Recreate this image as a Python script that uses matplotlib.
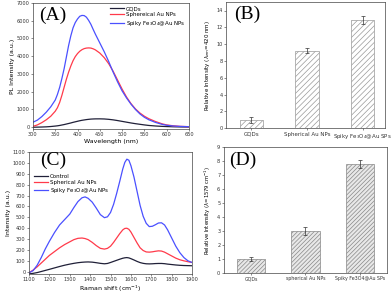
import matplotlib
matplotlib.use("Agg")
import matplotlib.pyplot as plt
import numpy as np

plt.rcParams['font.family'] = ['DejaVu Sans']
plt.rcParams['hatch.linewidth'] = 0.5

# panel A: PL spectra
wl = [300, 310, 320, 330, 340, 350, 355, 360, 365, 370, 375, 380, 385, 390,
      395, 400, 405, 410, 415, 420, 425, 430, 435, 440, 450, 460, 470, 480,
      490, 500, 510, 520, 530, 540, 550, 560, 575, 590, 600, 615, 630, 650]
pl_gqd = [0, 5, 12, 22, 40, 65, 80, 100, 125, 150, 180, 210, 240, 275, 305,
          335, 365, 390, 410, 430, 445, 458, 465, 470, 472, 465, 445, 415,
          375, 330, 285, 240, 200, 165, 130, 100, 70, 48, 38, 25, 17, 10]
pl_sph = [50, 130, 260, 420, 620, 900, 1100, 1400, 1800, 2250, 2700, 3100,
          3450, 3750, 3980, 4150, 4280, 4370, 4430, 4460, 4470, 4460, 4420,
          4360, 4180, 3920, 3580, 3150, 2650, 2150, 1700, 1330, 1030, 800,
          620, 480, 320, 190, 130, 80, 50, 30]
pl_spiky = [280, 400, 600, 850, 1150, 1530, 1850, 2250, 2750, 3300, 3950,
            4600, 5150, 5600, 5900, 6100, 6250, 6300, 6290, 6200, 6020, 5800,
            5520, 5250, 4750, 4250, 3700, 3100, 2550, 2050, 1650, 1300, 1000,
            750, 560, 420, 270, 160, 110, 70, 45, 30]

# panel B: relative PL intensity
b_labels = ['GQDs', 'Spherical Au NPs', 'Spiky Fe$_3$O$_4$@Au SPs']
b_vals = [1.0, 9.2, 12.9]
b_err = [0.35, 0.3, 0.5]

# panel C: Raman spectra
rs = [1100, 1120, 1140, 1160, 1180, 1200, 1225, 1250, 1275, 1300, 1320, 1340,
      1360, 1375, 1390, 1410, 1430, 1450, 1470, 1485, 1500, 1515, 1530, 1545,
      1560, 1570, 1580, 1590, 1600, 1615, 1630, 1645, 1660, 1675, 1690, 1705,
      1720, 1735, 1750, 1765, 1780, 1800, 1820, 1840, 1860, 1880, 1900]
ra_ctrl = [-20, -15, -8, 2, 12, 22, 35, 48, 60, 70, 77, 83, 87, 89, 90, 88,
           83, 77, 73, 76, 85, 95, 105, 115, 124, 128, 130, 127, 120, 108, 95,
           84, 77, 73, 72, 73, 75, 76, 76, 74, 70, 66, 62, 59, 57, 56, 55]
ra_sph = [-10, 15, 45, 80, 115, 150, 185, 220, 250, 275, 295, 307, 310, 305,
          295, 270, 240, 215, 208, 215, 235, 270, 310, 350, 385, 398, 400, 390,
          365, 315, 265, 220, 195, 182, 180, 183, 188, 192, 190, 180, 165, 145,
          125, 110, 100, 92, 85]
ra_spiky = [-10, 10, 60, 130, 210, 280, 360, 430, 480, 530, 590, 645, 680,
            688, 675, 640, 585, 525, 497, 505, 545, 620, 720, 830, 945, 1005,
            1035, 1025, 975, 870, 740, 610, 510, 445, 415, 418, 432, 448, 450,
            430, 385, 310, 235, 175, 130, 100, 85]

# panel D: relative Raman intensity
d_labels = ['GQDs', 'spherical Au NPs', 'Spiky Fe3O4@Au SPs']
d_vals = [1.0, 3.0, 7.8]
d_err = [0.13, 0.3, 0.3]

c_black = '#202038'
c_red = '#ff3a4a'
c_blue = '#4a50ff'
serif = ['Liberation Serif', 'DejaVu Serif']

fig = plt.figure(figsize=(3.92, 3.0), dpi=100)
axA = fig.add_axes([0.084, 0.57, 0.398, 0.42])
axB = fig.add_axes([0.577, 0.573, 0.405, 0.42])
axC = fig.add_axes([0.074, 0.087, 0.416, 0.406])
axD = fig.add_axes([0.571, 0.09, 0.416, 0.42])

for ax in (axA, axB, axC, axD):
    ax.tick_params(labelsize=3.6, length=1.5, width=0.4, pad=1, colors='#333333')
    for s in ax.spines.values():
        s.set_linewidth(0.5)
        s.set_color('#444444')

lw = 0.9
axA.plot(wl, pl_gqd, color=c_black, lw=lw, label='GQDs')
axA.plot(wl, pl_sph, color=c_red, lw=lw, label='Sphereical Au NPs')
axA.plot(wl, pl_spiky, color=c_blue, lw=lw, label='Spiky Fe$_3$O$_4$@Au NPs')
axA.set_xlim(300, 650)
axA.set_ylim(-100, 7000)
axA.set_xticks(range(300, 651, 50))
axA.set_yticks(range(0, 7001, 1000))
axA.set_xlabel('Wavelength (nm)', fontsize=4.5, labelpad=1)
axA.set_ylabel('PL Intensity (a.u.)', fontsize=4.5, labelpad=1)
axA.legend(loc='upper right', fontsize=4, frameon=False, handlelength=2.5,
           borderaxespad=0.2, labelspacing=0.2, handletextpad=0.4)
axA.text(0.04, 0.97, '(A)', transform=axA.transAxes, fontsize=14,
         family=serif, va='top')

xb = np.arange(len(b_vals))
axB.bar(xb, b_vals, width=0.42, color='white', edgecolor='#999999',
        hatch='//////', linewidth=0.5, yerr=b_err, capsize=1.2,
        error_kw=dict(elinewidth=0.5, capthick=0.5, ecolor='#333333'))
axB.set_xlim(-0.45, 2.4)
axB.set_ylim(0, 15)
axB.set_yticks(range(0, 15, 2))
axB.set_xticks(xb)
axB.set_xticklabels(b_labels, fontsize=4)
axB.set_ylabel('Relative Intensity ($\\lambda_{em}$=420 nm)', fontsize=4,
               labelpad=3)
axB.text(0.05, 0.97, '(B)', transform=axB.transAxes, fontsize=14,
         family=serif, va='top')

axC.plot(rs, ra_ctrl, color=c_black, lw=lw, label='Control')
axC.plot(rs, ra_sph, color=c_red, lw=lw, label='Spherical Au NPs')
axC.plot(rs, ra_spiky, color=c_blue, lw=lw, label='Spiky Fe$_3$O$_4$@Au NPs')
axC.set_xlim(1100, 1900)
axC.set_ylim(-20, 1100)
axC.set_xticks(range(1100, 1901, 100))
axC.set_yticks(range(0, 1101, 100))
axC.set_xlabel('Raman shift (cm$^{-1}$)', fontsize=4.5, labelpad=1)
axC.set_ylabel('Intensity (a.u.)', fontsize=4.5, labelpad=1)
axC.legend(loc='upper left', bbox_to_anchor=(0.0, 0.86), fontsize=4,
           frameon=False, handlelength=2.5, labelspacing=0.2,
           handletextpad=0.4)
axC.text(0.07, 1.0, '(C)', transform=axC.transAxes, fontsize=14,
         family=serif, va='top')

xd = np.arange(len(d_vals))
axD.bar(xd, d_vals, width=0.52, color='#e8e8e8', edgecolor='#888888',
        hatch='////////', linewidth=0.5, yerr=d_err, capsize=1.2,
        error_kw=dict(elinewidth=0.5, capthick=0.5, ecolor='#333333'))
axD.set_xlim(-0.5, 2.5)
axD.set_ylim(0, 9)
axD.set_yticks(range(0, 10))
axD.set_xticks(xd)
axD.set_xticklabels(d_labels, fontsize=3.4)
axD.set_ylabel('Relative Intensity ($\\lambda$=1579 cm$^{-1}$)', fontsize=3.8,
               labelpad=3)
axD.text(0.03, 0.96, '(D)', transform=axD.transAxes, fontsize=14,
         family=serif, va='top')

fig.savefig('out.png', dpi=100)
